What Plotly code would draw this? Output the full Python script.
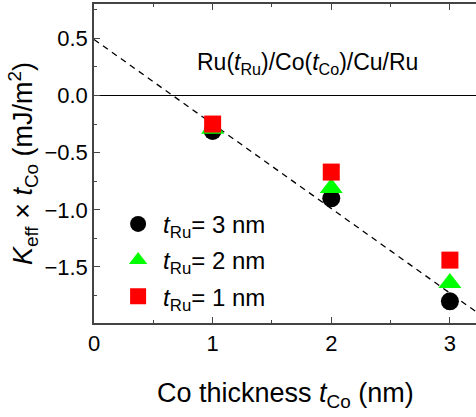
import plotly.graph_objects as go

# Data
co_thickness = [1, 2, 3]
keff_tru3 = [-0.31, -0.90, -1.80]
keff_tru2 = [-0.29, -0.81, -1.64]
keff_tru1 = [-0.25, -0.67, -1.44]
fit_x = [0, 3.3]
fit_y = [0.49, -1.95]

series_names = [
    "<i>t</i><sub>Ru</sub>= 3 nm",
    "<i>t</i><sub>Ru</sub>= 2 nm",
    "<i>t</i><sub>Ru</sub>= 1 nm",
]

FONT = "Liberation Sans, Arial, sans-serif"

fig = go.Figure()

fig.add_trace(go.Scatter(x=fit_x, y=fit_y, mode="lines",
                         line=dict(color="black", width=1.3, dash="6px,5px"),
                         showlegend=False, hoverinfo="skip"))

fig.add_trace(go.Scatter(x=co_thickness, y=keff_tru3, mode="markers",
                         name=series_names[0], legendgroup="a",
                         marker=dict(symbol="circle", size=18, color="black")))
fig.add_trace(go.Scatter(x=co_thickness, y=keff_tru2, mode="markers",
                         name=series_names[1], legendgroup="b",
                         marker=dict(symbol="triangle-up", size=20, color="#00ff00")))
fig.add_trace(go.Scatter(x=co_thickness, y=keff_tru1, mode="markers",
                         name=series_names[2], legendgroup="c",
                         marker=dict(symbol="square", size=17, color="#ff0000")))

fig.add_annotation(text="Ru(<i>t</i><sub>Ru</sub>)/Co(<i>t</i><sub>Co</sub>)/Cu/Ru",
                   xref="paper", yref="paper", x=0.56, y=0.865,
                   showarrow=False, font=dict(size=23, color="black", family=FONT))

# x-axis title placed as annotation for precise vertical position
fig.add_annotation(text="Co thickness <i>t</i><sub>Co</sub> (nm)",
                   xref="paper", yref="paper", x=0.5, y=-0.165,
                   xanchor="center", yanchor="top",
                   showarrow=False, font=dict(size=27, color="black", family=FONT))

axis_common = dict(
    ticks="inside", ticklen=6, tickwidth=1.2, tickcolor="#444",
    showline=True, linecolor="#444", linewidth=1.5,
    showgrid=False,
    tickfont=dict(size=22, color="black", family=FONT),
)

fig.update_xaxes(range=[0, 3.22], dtick=1, tick0=0, mirror="ticks",
                 zeroline=False,
                 minor=dict(ticks="inside", ticklen=3, dtick=0.5, tickcolor="#444"),
                 **axis_common)
fig.update_yaxes(range=[-1.99, 0.80], dtick=0.5, tick0=0, tickformat=".1f",
                 zeroline=True, zerolinecolor="black", zerolinewidth=1.2,
                 minor=dict(ticks="inside", ticklen=3, dtick=0.25, tickcolor="#444"),
                 title=dict(text="<i>K</i><sub>eff</sub> × <i>t</i><sub>Co</sub> (mJ/m<sup>2</sup>)",
                            font=dict(size=27, color="black", family=FONT), standoff=4),
                 **axis_common)

fig.update_layout(
    width=476, height=417,
    margin=dict(l=94, r=0, t=4, b=94),
    plot_bgcolor="white", paper_bgcolor="white",
    font=dict(family=FONT, color="black"),
    legend=dict(x=0.05, y=0.38, xanchor="left", yanchor="top",
                bgcolor="rgba(0,0,0,0)", traceorder="grouped", tracegroupgap=2,
                itemwidth=40,
                font=dict(size=24, color="black", family=FONT)),
)

fig.write_html("out.html")
